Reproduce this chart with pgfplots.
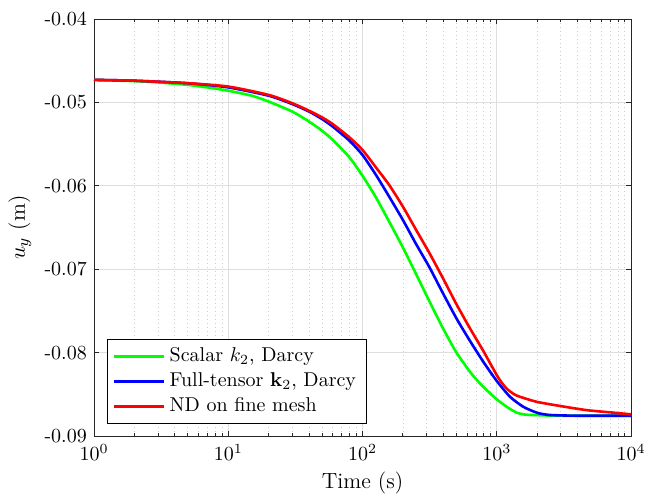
\documentclass[border=0pt]{standalone}
\usepackage{pgfplots}
\pgfplotsset{compat=1.18}
\definecolor{axgray}{rgb}{0.15,0.15,0.15}
\definecolor{majgrid}{rgb}{0.87,0.87,0.87}
\definecolor{mingrid}{rgb}{0.80,0.80,0.80}
\begin{document}
\begin{tikzpicture}
\begin{semilogxaxis}[
  scale only axis, width=268.5pt, height=208.5pt,
  xmin=1, xmax=1e4, ymin=-0.09, ymax=-0.04,
  scaled y ticks=false,
  ytick={-0.09,-0.08,-0.07,-0.06,-0.05,-0.04},
  yticklabels={-0.09,-0.08,-0.07,-0.06,-0.05,-0.04},
  xtick={1,10,100,1000,10000},
  xmajorgrids=true, ymajorgrids=true, xminorgrids=true,
  major grid style={majgrid, line width=0.4pt},
  minor grid style={mingrid, dash pattern=on 0.7pt off 1.3pt, line width=0.4pt},
  tick align=inside, tick pos=both,
  axis line style={axgray, line width=0.45pt},
  every tick/.style={axgray, line width=0.45pt},
  major tick length=2.5pt, minor tick length=1.5pt,
  x tick label style={anchor=base, yshift=-12.3pt, inner sep=0pt},
  y tick label style={anchor=east, xshift=-3.4pt, inner sep=0pt},
  xlabel={Time (s)}, ylabel={$u_y$ (m)},
  xlabel style={at={(axis description cs:0.5,0)}, anchor=base, yshift=-26pt, inner sep=0pt, font=\fontsize{11}{13}\selectfont},
  ylabel style={at={(axis description cs:0,0.5)}, anchor=north, yshift=43pt, inner sep=0pt, font=\fontsize{11}{13}\selectfont},
  legend style={at={(axis description cs:0,0)}, anchor=south west, xshift=6.35pt, yshift=6.35pt, draw=black, line width=0.4pt, font=\normalsize, cells={anchor=west}, fill=white},
  legend image code/.code={\draw[#1] (0pt,0pt) -- (25pt,0pt);},
  every axis plot/.append style={line width=1.3pt, smooth, tension=0.4},
]
\addplot[color={rgb,1:red,0;green,1;blue,0}] table {
1 -0.0473
2 -0.04745
3 -0.0476
5 -0.0479
7 -0.0482
10 -0.0486
15 -0.0492
20 -0.0499
30 -0.0511
40 -0.0523
50 -0.0534
60 -0.0545
80 -0.0566
100 -0.0588
126 -0.0614
158 -0.0643
200 -0.0674
251 -0.0706
316 -0.0739
398 -0.0771
501 -0.0800
632 -0.0823
730 -0.0835
841 -0.0845
1000 -0.0856
1186 -0.0865
1300 -0.0869
1409 -0.0872
1550 -0.08738
1700 -0.08746
2000 -0.0875
3000 -0.08757
10000 -0.08757
};
\addlegendentry{Scalar $k_2$, Darcy}
\addplot[color={rgb,1:red,0;green,0;blue,1}] table {
1 -0.0473
2 -0.0474
5 -0.0477
10 -0.0482
20 -0.0492
30 -0.0502
40 -0.0511
50 -0.0520
60 -0.0529
80 -0.0546
100 -0.0563
126 -0.0587
158 -0.0613
200 -0.0641
251 -0.0670
316 -0.0698
398 -0.0729
501 -0.0759
632 -0.0786
794 -0.0811
1000 -0.0834
1256 -0.0853
1577 -0.0865
1984 -0.0872
2300 -0.08742
2638 -0.0875
4000 -0.08757
10000 -0.08757
};
\addlegendentry{Full-tensor $\mathbf{k}_2$, Darcy}
\addplot[color={rgb,1:red,1;green,0;blue,0}] table {
1 -0.0473
2 -0.0474
5 -0.0477
10 -0.0481
20 -0.0491
30 -0.0501
40 -0.0510
50 -0.0518
60 -0.0526
80 -0.0542
100 -0.0557
126 -0.0578
158 -0.0599
200 -0.0625
251 -0.0653
316 -0.0681
398 -0.0711
501 -0.0742
632 -0.0771
794 -0.0798
1000 -0.0827
1100 -0.0837
1200 -0.0844
1350 -0.0850
1490 -0.0853
1984 -0.0859
2960 -0.0864
4677 -0.0869
7380 -0.0872
10000 -0.0874
};
\addlegendentry{ND on fine mesh}
\end{semilogxaxis}
\pgfresetboundingbox
\path ([shift={(-47pt,-30.5pt)}]current axis.south west) rectangle ([shift={(13pt,9.5pt)}]current axis.north east);
\end{tikzpicture}
\end{document}
